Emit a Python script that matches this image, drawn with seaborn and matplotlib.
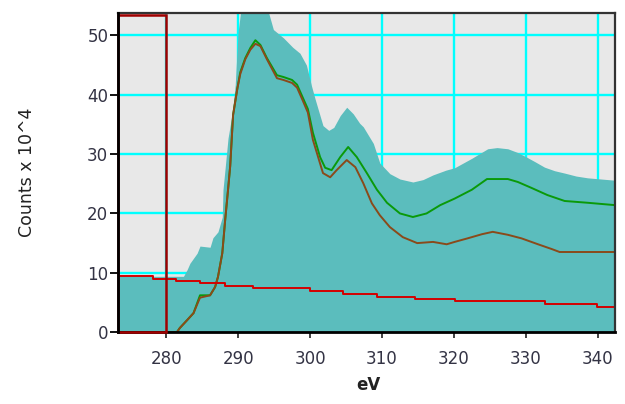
import matplotlib
matplotlib.use("Agg")
import matplotlib.pyplot as plt
from matplotlib.patches import Rectangle
import pandas as pd
import seaborn as sns

# Total measured spectrum (filled area)
total_ev = [273.3, 282.4, 282.9, 283.3, 284.3, 284.7, 286.1, 286.5, 287.2, 287.8,
            287.9, 288.2, 288.6, 289.2, 289.6, 290.0, 290.4, 291.0, 292.0, 293.0,
            294.2, 294.9, 296.3, 297.6, 298.6, 299.5, 300.2, 300.7, 301.8, 302.6,
            303.3, 304.2, 305.1, 306.0, 306.9, 307.4, 308.8, 309.7, 311.1, 312.5,
            314.3, 315.7, 317.1, 318.9, 320.1, 321.3, 322.5, 323.6, 324.7, 326.0,
            327.5, 328.8, 330.1, 331.3, 332.6, 334.0, 335.4, 337.0, 338.6, 340.5,
            342.4]
total_counts = [9.4, 9.4, 10.5, 11.6, 13.3, 14.5, 14.3, 15.9, 16.9, 19.4,
                24.0, 27.7, 32.7, 37.0, 41.7, 50.6, 54.5, 56.0, 57.0, 56.5,
                54.0, 51.0, 49.6, 48.0, 47.0, 45.0, 41.5, 39.3, 34.8, 34.0,
                34.5, 36.5, 37.9, 36.8, 35.2, 34.6, 31.8, 28.5, 26.7, 25.8,
                25.3, 25.7, 26.5, 27.3, 27.7, 28.5, 29.3, 30.1, 30.9, 31.1,
                30.9, 30.3, 29.5, 28.7, 27.8, 27.2, 26.8, 26.3, 26.0, 25.8,
                25.6]

# Upper fitted curve (green)
fit_ev = [273.3, 281.5, 281.9, 282.9, 283.8, 284.7, 286.1, 286.8, 287.2, 287.8,
          288.2, 288.6, 288.9, 289.3, 289.9, 290.3, 291.0, 291.7, 292.4, 293.1,
          294.0, 295.4, 296.3, 297.5, 298.2, 299.0, 299.7, 300.4, 301.4, 302.1,
          303.0, 304.2, 305.3, 306.5, 307.9, 309.3, 310.7, 312.5, 314.3, 316.2,
          318.1, 320.1, 322.5, 324.6, 327.5, 328.9, 330.8, 333.0, 335.4, 338.6,
          342.4]
fit_counts = [0.0, 0.0, 0.7, 2.0, 3.2, 6.2, 6.2, 7.6, 9.3, 13.3,
              18.9, 24.0, 28.0, 36.6, 41.1, 43.8, 46.2, 47.9, 49.2, 48.4,
              46.2, 43.3, 43.0, 42.5, 41.7, 39.5, 37.6, 33.6, 29.5, 27.7,
              27.3, 29.5, 31.2, 29.5, 26.8, 24.0, 21.8, 20.0, 19.4, 20.0,
              21.4, 22.5, 24.0, 25.8, 25.8, 25.3, 24.3, 23.1, 22.1, 21.8,
              21.4]

# Background-subtracted curve (brown)
net_ev = [273.3, 281.5, 281.9, 282.9, 283.8, 284.7, 286.1, 286.8, 287.2, 287.8,
          288.2, 288.6, 288.9, 289.3, 289.9, 290.3, 291.0, 291.7, 292.4, 293.1,
          294.0, 295.4, 296.3, 297.5, 298.2, 299.0, 299.7, 300.4, 301.8, 302.8,
          303.7, 305.1, 306.3, 307.4, 308.6, 309.7, 311.1, 312.9, 314.9, 317.1,
          319.0, 320.1, 321.9, 323.9, 325.4, 327.5, 329.4, 331.7, 333.6, 334.7,
          342.4]
net_counts = [0.0, 0.0, 0.7, 2.0, 3.2, 5.8, 6.2, 7.6, 9.3, 13.3,
              18.9, 24.0, 28.0, 36.6, 41.1, 43.5, 46.0, 47.6, 48.6, 48.2,
              46.0, 42.8, 42.5, 42.0, 41.2, 39.0, 37.0, 32.4, 26.8, 26.1,
              27.3, 29.0, 27.8, 25.1, 21.7, 19.7, 17.7, 16.0, 15.0, 15.2,
              14.8, 15.2, 15.8, 16.5, 16.9, 16.4, 15.8, 14.8, 14.0, 13.5,
              13.5]

# Pre-edge background (red, stepped)
bg_ev = [273.3, 278.2, 281.3, 284.7, 288.2, 292.1, 300.0, 304.6, 309.3, 314.6,
         320.1, 332.6, 339.9, 342.4]
bg_counts = [9.4, 8.9, 8.6, 8.2, 7.8, 7.4, 6.9, 6.4, 5.9, 5.6,
             5.2, 4.7, 4.2, 4.2]

x_ticks = [280, 290, 300, 310, 320, 330, 340]
y_ticks = [0, 10, 20, 30, 40, 50]
window_edges = (273.3, 280.0)

sns.set_style("white")
plt.rcParams['font.family'] = ['DejaVu Sans']

fig = plt.figure(figsize=(6.25, 4.04), dpi=100)
ax = fig.add_axes([0.1888, 0.178, 0.7952, 0.790])
ax.set_facecolor('#e8e8e8')
ax.set_axisbelow(True)
ax.grid(True, color='#00ffff', lw=1.7)

ax.fill_between(total_ev, total_counts, 0, color='#5bbdbd', lw=0, zorder=2)

df_fit = pd.DataFrame({"eV": fit_ev, "counts": fit_counts})
df_net = pd.DataFrame({"eV": net_ev, "counts": net_counts})
df_bg = pd.DataFrame({"eV": bg_ev, "counts": bg_counts})

sns.lineplot(data=df_fit, x="eV", y="counts", ax=ax, color='#0a9a0a', lw=1.4,
             estimator=None, sort=False, zorder=4)
sns.lineplot(data=df_net, x="eV", y="counts", ax=ax, color='#8a4a1a', lw=1.4,
             estimator=None, sort=False, zorder=5)
sns.lineplot(data=df_bg, x="eV", y="counts", ax=ax, color='#d40000', lw=1.4,
             estimator=None, sort=False, drawstyle='steps-post', zorder=5)

# Integration window outline (sits over the bottom spine, under the left one)
ax.add_patch(Rectangle((window_edges[0], 0), window_edges[1] - window_edges[0], 53.5,
                       fill=False, edgecolor='#a00000', lw=1.8, zorder=8,
                       clip_on=False))

ax.set_xlim(273.3, 342.4)
ax.set_ylim(0, 53.8)
ax.set_xticks(x_ticks)
ax.set_yticks(y_ticks)
ax.set_xlabel("")
ax.set_ylabel("")

for side in ("left", "bottom"):
    ax.spines[side].set_color('black')
    ax.spines[side].set_linewidth(2.0)
for side in ("top", "right"):
    ax.spines[side].set_color('#333333')
    ax.spines[side].set_linewidth(1.6)
for s in ax.spines.values():
    s.set_zorder(7)
ax.spines["left"].set_zorder(9)

ax.tick_params(axis='y', direction='out', length=6, width=1.3, pad=1,
               labelsize=12, color='black', labelcolor='#333344', left=True)
ax.tick_params(axis='x', direction='out', length=4, width=1.3, pad=9,
               labelsize=12, color='#333333', labelcolor='#333344', bottom=True)

fig.text(0.0432, 0.574, "Counts x 10^4", rotation=90, ha='center', va='center',
         fontsize=12.5, color='#222222')
fig.text(0.59, 0.0475, "eV", ha='center', va='center', fontsize=12,
         fontweight='bold', color='#222222')

fig.savefig("out.png", dpi=100)
